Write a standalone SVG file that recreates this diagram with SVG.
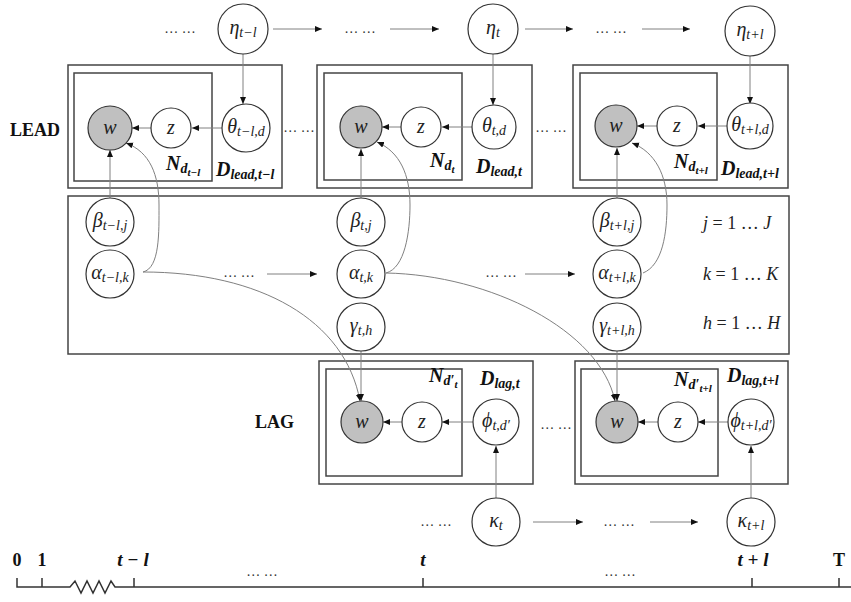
<svg xmlns="http://www.w3.org/2000/svg" width="851" height="602" viewBox="0 0 851 602">
<style>
.bg{fill:#fff}
.plate{fill:none;stroke:#444;stroke-width:1.5}
.nc{fill:#fff;stroke:#333;stroke-width:1.2}
.obs{fill:#c0c0c0;stroke:#333;stroke-width:1.2}
.e{fill:none;stroke:#808080;stroke-width:1;marker-end:url(#ah)}
.m{font-family:"Liberation Serif","DejaVu Serif",serif;font-style:italic;font-size:20px;fill:#222}
.s{font-size:14px}
.ss{font-size:11px}
.pl{font-family:"Liberation Serif","DejaVu Serif",serif;font-style:italic;font-weight:bold;font-size:20px;fill:#111}
.pl .s{font-size:14px}
.dots{font-family:"Liberation Serif",serif;font-size:14px;fill:#333}
.lbl{font-family:"Liberation Serif",serif;font-weight:bold;font-size:18px;fill:#111}
.tl{fill:none;stroke:#333;stroke-width:1.5}
</style>
<defs>
<marker id="ah" markerUnits="userSpaceOnUse" markerWidth="8" markerHeight="7" refX="7" refY="3" orient="auto">
<path d="M0,0 L7,3 L0,6 z" fill="#111"/>
</marker>
</defs>
<rect class="bg" x="0" y="0" width="851" height="602"/>

<g id="plates">
<rect class="plate" x="68" y="65" width="214" height="123"/>
<rect class="plate" x="74" y="73" width="138" height="108"/>
<rect class="plate" x="317" y="65" width="215" height="123"/>
<rect class="plate" x="324" y="73" width="138" height="107"/>
<rect class="plate" x="573" y="65" width="215" height="123"/>
<rect class="plate" x="580" y="73" width="137" height="107"/>
<rect class="plate" x="68" y="196" width="721" height="158"/>
<rect class="plate" x="319" y="361" width="214" height="123"/>
<rect class="plate" x="326" y="369" width="136" height="107"/>
<rect class="plate" x="575" y="361" width="213" height="123"/>
<rect class="plate" x="581" y="369" width="137" height="107"/>
</g>

<g id="plate-labels">
<text class="pl" x="166" y="170">N<tspan class="s" dy="3">d</tspan><tspan class="ss" dy="3">t−l</tspan></text>
<text class="pl" x="216" y="176">D<tspan class="s" dy="3">lead,t−l</tspan></text>
<text class="pl" x="430" y="167">N<tspan class="s" dy="3">d</tspan><tspan class="ss" dy="3">t</tspan></text>
<text class="pl" x="476" y="173">D<tspan class="s" dy="3">lead,t</tspan></text>
<text class="pl" x="674" y="168">N<tspan class="s" dy="3">d</tspan><tspan class="ss" dy="3">t+l</tspan></text>
<text class="pl" x="721" y="175">D<tspan class="s" dy="3">lead,t+l</tspan></text>
<text class="pl" x="429" y="382">N<tspan class="s" dy="3">d′</tspan><tspan class="ss" dy="3">t</tspan></text>
<text class="pl" x="480" y="385">D<tspan class="s" dy="3">lag,t</tspan></text>
<text class="pl" x="674" y="386">N<tspan class="s" dy="3">d′</tspan><tspan class="ss" dy="3">t+l</tspan></text>
<text class="pl" x="727" y="382">D<tspan class="s" dy="3">lag,t+l</tspan></text>
<text class="lbl" x="10" y="136">LEAD</text>
<text class="lbl" x="255" y="428">LAG</text>
<text class="m" x="703" y="229" style="font-size:18px">j <tspan font-style="normal">= 1 … </tspan>J</text>
<text class="m" x="703" y="280" style="font-size:18px">k <tspan font-style="normal">= 1 … </tspan>K</text>
<text class="m" x="703" y="329" style="font-size:18px">h <tspan font-style="normal">= 1 … </tspan>H</text>
</g>

<g id="dots">
<text class="dots" x="180" y="33" text-anchor="middle">… …</text>
<text class="dots" x="360" y="33" text-anchor="middle">… …</text>
<text class="dots" x="611" y="33" text-anchor="middle">… …</text>
<text class="dots" x="299" y="132" text-anchor="middle">… …</text>
<text class="dots" x="551" y="132" text-anchor="middle">… …</text>
<text class="dots" x="239" y="277" text-anchor="middle">… …</text>
<text class="dots" x="501" y="277" text-anchor="middle">… …</text>
<text class="dots" x="556" y="429" text-anchor="middle">… …</text>
<text class="dots" x="436" y="526" text-anchor="middle">… …</text>
<text class="dots" x="619" y="526" text-anchor="middle">… …</text>
<text class="dots" x="262" y="576" text-anchor="middle">… …</text>
<text class="dots" x="620" y="576" text-anchor="middle">… …</text>
</g>

<g id="connectors">
<path class="e" d="M273,29 L322,29"/>
<path class="e" d="M390,29 L439,29"/>
<path class="e" d="M525,29 L573,29"/>
<path class="e" d="M642,29 L690,29"/>
<path class="e" d="M243,54 L243,104"/>
<path class="e" d="M493,54 L493,105"/>
<path class="e" d="M750,56 L750,104"/>
<path class="e" d="M222,128 L192,128"/>
<path class="e" d="M151,128 L132,128"/>
<path class="e" d="M472,127 L442,127"/>
<path class="e" d="M401,127 L382,127"/>
<path class="e" d="M727,126 L698,126"/>
<path class="e" d="M657,126 L637,126"/>
<path class="e" d="M110,198 L110,150"/>
<path class="e" d="M361,198 L361,149"/>
<path class="e" d="M617,198 L617,148"/>
<path class="e" d="M267,274 L317,274"/>
<path class="e" d="M525,274 L575,274"/>
<path class="e" d="M361,351 L361,401"/>
<path class="e" d="M617,351 L617,401"/>
<path class="e" d="M473,422 L442,422"/>
<path class="e" d="M402,422 L383,422"/>
<path class="e" d="M728,422 L698,422"/>
<path class="e" d="M658,422 L638,422"/>
<path class="e" d="M496,498 L496,446"/>
<path class="e" d="M751,498 L751,446"/>
<path class="e" d="M533,522 L583,522"/>
<path class="e" d="M650,522 L698,522"/>
<path class="e" d="M143,272 C160,268 159,232 159,205 C159,175 150,152 126,143"/>
<path class="e" d="M386,273 C405,268 410,232 410,205 C410,175 400,152 377,142"/>
<path class="e" d="M643,273 C663,265 667,232 667,205 C667,175 655,152 632,143"/>
<path class="e" d="M143,272 C260,272 345,320 360,401"/>
<path class="e" d="M386,273 C490,275 600,330 615,401"/>
</g>

<g id="eta-tl"><circle class="nc" cx="243" cy="29" r="25"/><text class="m" x="243" y="34" text-anchor="middle">η<tspan class="s" dy="3">t−l</tspan></text></g>
<g id="eta-t"><circle class="nc" cx="493" cy="29" r="25"/><text class="m" x="493" y="34" text-anchor="middle">η<tspan class="s" dy="3">t</tspan></text></g>
<g id="eta-tpl"><circle class="nc" cx="750" cy="31" r="25"/><text class="m" x="750" y="36" text-anchor="middle">η<tspan class="s" dy="3">t+l</tspan></text></g>

<g id="w-lead-tl"><circle class="obs" cx="110" cy="128" r="22"/><text class="m" x="110" y="134" text-anchor="middle">w</text></g>
<g id="z-lead-tl"><circle class="nc" cx="171" cy="128" r="20"/><text class="m" x="171" y="134" text-anchor="middle">z</text></g>
<g id="theta-tl"><circle class="nc" cx="246" cy="128" r="24"/><text class="m" x="246" y="133" text-anchor="middle">θ<tspan class="s" dy="3">t−l,d</tspan></text></g>

<g id="w-lead-t"><circle class="obs" cx="361" cy="127" r="21"/><text class="m" x="361" y="133" text-anchor="middle">w</text></g>
<g id="z-lead-t"><circle class="nc" cx="421" cy="127" r="20"/><text class="m" x="421" y="133" text-anchor="middle">z</text></g>
<g id="theta-t"><circle class="nc" cx="494" cy="127" r="22"/><text class="m" x="494" y="132" text-anchor="middle">θ<tspan class="s" dy="3">t,d</tspan></text></g>

<g id="w-lead-tpl"><circle class="obs" cx="616" cy="126" r="21"/><text class="m" x="616" y="132" text-anchor="middle">w</text></g>
<g id="z-lead-tpl"><circle class="nc" cx="677" cy="126" r="20"/><text class="m" x="677" y="132" text-anchor="middle">z</text></g>
<g id="theta-tpl"><circle class="nc" cx="750" cy="126" r="23"/><text class="m" x="750" y="131" text-anchor="middle">θ<tspan class="s" dy="3">t+l,d</tspan></text></g>

<g id="beta-tl"><circle class="nc" cx="110" cy="222" r="24"/><text class="m" x="110" y="227" text-anchor="middle">β<tspan class="s" dy="3">t−l,j</tspan></text></g>
<g id="alpha-tl"><circle class="nc" cx="110" cy="274" r="24"/><text class="m" x="110" y="279" text-anchor="middle">α<tspan class="s" dy="3">t−l,k</tspan></text></g>
<g id="beta-t"><circle class="nc" cx="361" cy="222" r="24"/><text class="m" x="361" y="227" text-anchor="middle">β<tspan class="s" dy="3">t,j</tspan></text></g>
<g id="alpha-t"><circle class="nc" cx="361" cy="274" r="24"/><text class="m" x="361" y="279" text-anchor="middle">α<tspan class="s" dy="3">t,k</tspan></text></g>
<g id="gamma-t"><circle class="nc" cx="361" cy="327" r="24"/><text class="m" x="361" y="332" text-anchor="middle">γ<tspan class="s" dy="3">t,h</tspan></text></g>
<g id="beta-tpl"><circle class="nc" cx="617" cy="222" r="24"/><text class="m" x="617" y="227" text-anchor="middle">β<tspan class="s" dy="3">t+l,j</tspan></text></g>
<g id="alpha-tpl"><circle class="nc" cx="617" cy="274" r="24"/><text class="m" x="617" y="279" text-anchor="middle">α<tspan class="s" dy="3">t+l,k</tspan></text></g>
<g id="gamma-tpl"><circle class="nc" cx="617" cy="327" r="24"/><text class="m" x="617" y="332" text-anchor="middle">γ<tspan class="s" dy="3">t+l,h</tspan></text></g>

<g id="w-lag-t"><circle class="obs" cx="362" cy="422" r="21"/><text class="m" x="362" y="428" text-anchor="middle">w</text></g>
<g id="z-lag-t"><circle class="nc" cx="422" cy="422" r="20"/><text class="m" x="422" y="428" text-anchor="middle">z</text></g>
<g id="phi-t"><circle class="nc" cx="496" cy="422" r="23"/><text class="m" x="496" y="427" text-anchor="middle">ϕ<tspan class="s" dy="3">t,d′</tspan></text></g>
<g id="w-lag-tpl"><circle class="obs" cx="617" cy="422" r="21"/><text class="m" x="617" y="428" text-anchor="middle">w</text></g>
<g id="z-lag-tpl"><circle class="nc" cx="678" cy="422" r="20"/><text class="m" x="678" y="428" text-anchor="middle">z</text></g>
<g id="phi-tpl"><circle class="nc" cx="751" cy="422" r="23"/><text class="m" x="751" y="427" text-anchor="middle">ϕ<tspan class="s" dy="3">t+l,d′</tspan></text></g>

<g id="kappa-t"><circle class="nc" cx="496" cy="522" r="24"/><text class="m" x="496" y="527" text-anchor="middle">κ<tspan class="s" dy="3">t</tspan></text></g>
<g id="kappa-tpl"><circle class="nc" cx="751" cy="522" r="24"/><text class="m" x="751" y="527" text-anchor="middle">κ<tspan class="s" dy="3">t+l</tspan></text></g>

<g id="timeline">
<path class="tl" d="M17,578 L17,587 L70,587 L75,581 L81,593 L87,581 L93,593 L99,581 L105,593 L111,581 L115,587 L851,587"/>
<path class="tl" d="M42,578 L42,587 M134,578 L134,587 M423,578 L423,587 M752,578 L752,587 M839,578 L839,587" stroke-width="1"/>
<text class="lbl" x="17" y="566" text-anchor="middle">0</text>
<text class="lbl" x="42" y="566" text-anchor="middle">1</text>
<text class="pl" x="133" y="566" text-anchor="middle" style="font-size:19px">t − l</text>
<text class="pl" x="423" y="566" text-anchor="middle" style="font-size:19px">t</text>
<text class="pl" x="753" y="566" text-anchor="middle" style="font-size:19px">t + l</text>
<text class="lbl" x="839" y="566" text-anchor="middle">T</text>
</g>
</svg>
